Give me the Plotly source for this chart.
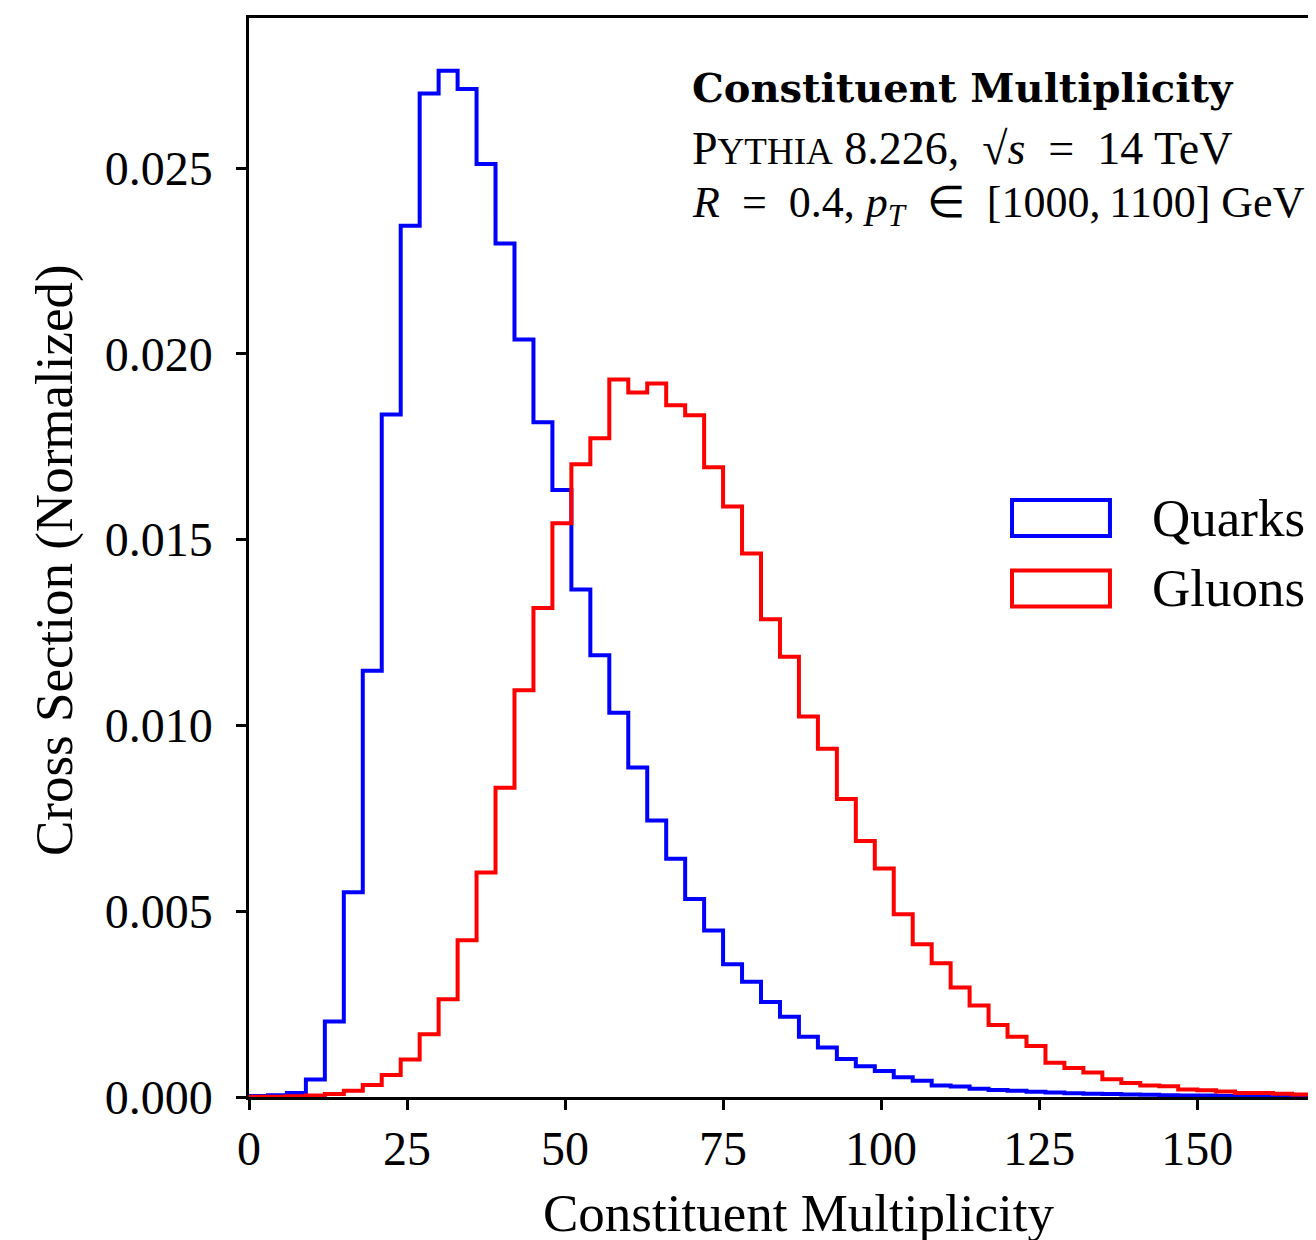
import plotly.graph_objects as go

# histogram bins (constituent multiplicity), width 3
bin_edges = list(range(0, 172, 3))

quarks = [
    0.00003, 0.00005, 0.00011, 0.00047, 0.00203, 0.00551, 0.01147, 0.01837,
    0.02345, 0.02701, 0.02762, 0.02713, 0.02511, 0.02297, 0.02039, 0.01816,
    0.01634, 0.01366, 0.01189, 0.01034, 0.00887, 0.00744, 0.00641, 0.00533,
    0.00448, 0.00357, 0.00310, 0.00256, 0.00216, 0.00162, 0.00133, 0.00102,
    0.00083, 0.00070, 0.00053, 0.00044, 0.00031, 0.00028, 0.00022, 0.00019,
    0.00017, 0.00014, 0.00012, 0.00010, 0.00009, 0.00008, 0.00007, 0.00006,
    0.00005, 0.00004, 0.00004, 0.00003, 0.00003, 0.00002, 0.00002, 0.00002,
    0.00001,
]

gluons = [
    0.00001, 0.00001, 0.00002, 0.00004, 0.00008, 0.00017, 0.00032, 0.00059,
    0.00101, 0.00169, 0.00263, 0.00422, 0.00604, 0.00832, 0.01095, 0.01316,
    0.01544, 0.01703, 0.01773, 0.01931, 0.01896, 0.01920, 0.01862, 0.01835,
    0.01695, 0.01589, 0.01463, 0.01286, 0.01185, 0.01024, 0.00937, 0.00802,
    0.00689, 0.00615, 0.00492, 0.00411, 0.00360, 0.00295, 0.00246, 0.00194,
    0.00162, 0.00137, 0.00092, 0.00078, 0.00066, 0.00048, 0.00038, 0.00031,
    0.00029, 0.00020, 0.00018, 0.00015, 0.00011, 0.00011, 0.00009, 0.00007,
    0.00006,
]

series_names = ["Quarks", "Gluons"]
series_colors = ["#0000ff", "#ff0000"]

x_ticks = [0, 25, 50, 75, 100, 125, 150]
y_ticks = [0.000, 0.005, 0.010, 0.015, 0.020, 0.025]

FONT = "Liberation Serif"

fig = go.Figure()

# step histograms, gluons drawn on top
for name, vals, col in zip(series_names, [quarks, gluons], series_colors):
    fig.add_trace(go.Scatter(
        x=bin_edges, y=vals + [vals[-1]],
        mode="lines", line=dict(color=col, width=4, shape="hv"),
        name=name, showlegend=False,
    ))

# hand-made legend with outlined patches
legend_rows = [(0.5366, series_names[0], series_colors[0]),
               (0.4713, series_names[1], series_colors[1])]
for yc, name, col in legend_rows:
    fig.add_shape(type="rect", xref="paper", yref="paper",
                  x0=0.7151, x1=0.8069, y0=yc - 0.0167, y1=yc + 0.0167,
                  line=dict(color=col, width=4), fillcolor="rgba(0,0,0,0)")
    fig.add_annotation(x=0.8444, y=yc, xref="paper", yref="paper",
                       text=name, showarrow=False, xanchor="left", yanchor="middle",
                       font=dict(family=FONT, size=53, color="black"))

# info text
fig.add_annotation(x=0.4133, y=0.936, xref="paper", yref="paper",
                   text="<b>Constituent Multiplicity</b>", showarrow=False,
                   xanchor="left", yanchor="middle",
                   font=dict(family="DejaVu Serif", size=40, color="black"))
fig.add_annotation(x=0.4133, y=0.8795, xref="paper", yref="paper",
                   text="P<span style='font-size:37px'>YTHIA</span> 8.226,\u2002√<i>s</i>\u2002=\u200214 TeV",
                   showarrow=False, xanchor="left", yanchor="middle",
                   font=dict(family=FONT, size=46, color="black"))
fig.add_annotation(x=0.4133, y=0.8258, xref="paper", yref="paper",
                   text="<i>R</i>\u2002=\u20020.4, <i>p<sub>T</sub></i>\u2002∈\u2002[1000,\u20091100] GeV",
                   showarrow=False, xanchor="left", yanchor="middle",
                   font=dict(family=FONT, size=44, color="black"))

# axis titles
fig.add_annotation(x=0.515, y=-0.1075, xref="paper", yref="paper",
                   text="Constituent Multiplicity", showarrow=False,
                   xanchor="center", yanchor="middle",
                   font=dict(family=FONT, size=53, color="black"))
fig.add_annotation(x=-0.1818, y=0.4977, xref="paper", yref="paper",
                   text="Cross Section (Normalized)", showarrow=False, textangle=-90,
                   xanchor="center", yanchor="middle",
                   font=dict(family=FONT, size=53, color="black"))

# page body has an 8px margin, so the figure is 8px smaller than the window
fig.update_layout(
    width=1308, height=1232,
    margin=dict(l=241, r=0, t=10, b=143),
    plot_bgcolor="white", paper_bgcolor="white",
    font=dict(family=FONT, size=48, color="black"),
)
fig.update_xaxes(
    range=[0, 168.8], tickvals=x_ticks, showgrid=False, zeroline=False,
    showline=True, linecolor="black", linewidth=2.5, mirror=True,
    ticks="outside", ticklen=10, tickwidth=2.5, tickcolor="black",
    ticklabelstandoff=-2,
)
fig.update_yaxes(
    range=[0, 0.02904], tickvals=y_ticks, tickformat=".3f", showgrid=False,
    zeroline=False, showline=True, linecolor="black", linewidth=2.5,
    ticks="outside", ticklen=10, tickwidth=2.5, tickcolor="black",
    ticklabelstandoff=14,
)

fig.write_html("out.html")
